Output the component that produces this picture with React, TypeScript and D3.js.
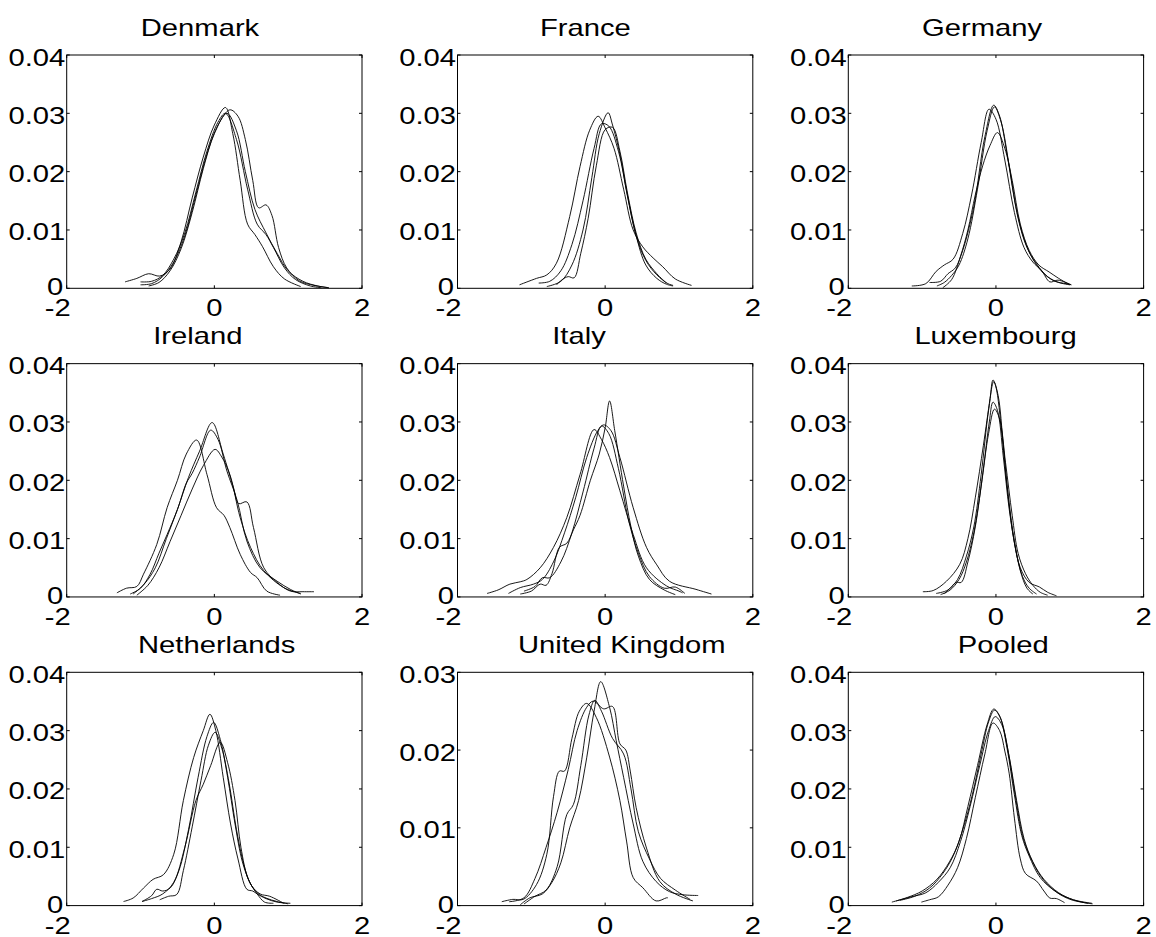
import React from "react";
import * as d3 from "d3";

type Pt = [number, number];

const countries = ["Denmark", "France", "Germany", "Ireland", "Italy", "Luxembourg", "Netherlands", "United Kingdom", "Pooled"];
const yMaxes = [0.04, 0.04, 0.04, 0.04, 0.04, 0.04, 0.04, 0.03, 0.04];
const xTicks = [-2, 0, 2];
const titleCenters = [200, 585.3, 982, 197.8, 579, 995.5, 216.7, 621.7, 1003.3];

const denmark: Pt[][] = [
  [[-1.21,0.0011],[-1.05,0.0017],[-0.89,0.0025],[-0.74,0.0021],[-0.6,0.0033],[-0.45,0.0080],[-0.3,0.0155],[-0.15,0.0225],[0,0.0280],[0.15,0.0310],[0.25,0.0265],[0.35,0.0185],[0.45,0.0110],[0.55,0.0092],[0.65,0.0072],[0.8,0.0037],[0.95,0.0016],[1.17,0.0003]],
  [[-1.0,0.0011],[-0.85,0.0012],[-0.7,0.0022],[-0.55,0.0050],[-0.4,0.0095],[-0.25,0.0165],[-0.1,0.0235],[0.05,0.0285],[0.15,0.0300],[0.3,0.0255],[0.45,0.0170],[0.58,0.0110],[0.7,0.0092],[0.8,0.0070],[0.95,0.0035],[1.1,0.0015],[1.3,0.0004],[1.45,0.0001]],
  [[-1.0,0.0006],[-0.85,0.0008],[-0.7,0.0020],[-0.55,0.0045],[-0.4,0.0090],[-0.25,0.0160],[-0.1,0.0230],[0.05,0.0280],[0.21,0.0306],[0.32,0.0295],[0.42,0.0255],[0.52,0.0185],[0.6,0.0138],[0.7,0.0143],[0.78,0.0125],[0.87,0.0070],[0.98,0.0035],[1.15,0.0013],[1.35,0.0005],[1.55,0.0001]],
  [[-0.89,0.0004],[-0.75,0.0010],[-0.6,0.0030],[-0.45,0.0068],[-0.3,0.0130],[-0.15,0.0205],[0,0.0265],[0.17,0.0300],[0.3,0.0270],[0.42,0.0200],[0.55,0.0135],[0.7,0.0095],[0.85,0.0060],[1.0,0.0030],[1.2,0.0012],[1.4,0.0004],[1.55,0.0001]],
];

const france: Pt[][] = [
  [[-1.16,0.0006],[-0.93,0.0017],[-0.79,0.0023],[-0.66,0.0043],[-0.48,0.0123],[-0.34,0.0209],[-0.21,0.0271],[-0.095,0.0295],[0,0.0275],[0.12,0.0240],[0.25,0.0170],[0.38,0.0100],[0.51,0.0071],[0.65,0.0052],[0.78,0.0037],[0.95,0.0016],[1.17,0.0005]],
  [[-0.79,0.0003],[-0.6,0.0012],[-0.45,0.0040],[-0.3,0.0100],[-0.18,0.0190],[-0.08,0.0265],[0.04,0.0301],[0.1,0.0280],[0.2,0.0230],[0.3,0.0160],[0.42,0.0090],[0.55,0.0040],[0.7,0.0017],[0.83,0.0007],[0.92,0.0004]],
  [[-0.9,0.0009],[-0.75,0.0012],[-0.6,0.0030],[-0.45,0.0075],[-0.3,0.0150],[-0.15,0.0240],[-0.05,0.0282],[0.05,0.0278],[0.18,0.0235],[0.3,0.0160],[0.42,0.0090],[0.55,0.0048],[0.7,0.0023],[0.85,0.0008],[0.92,0.0005]],
  [[-0.66,0.0006],[-0.58,0.0015],[-0.5,0.0020],[-0.42,0.0018],[-0.33,0.0060],[-0.23,0.0120],[-0.12,0.0210],[0,0.0272],[0.1,0.0276],[0.2,0.0235],[0.3,0.0165],[0.42,0.0095],[0.55,0.0050],[0.7,0.0025],[0.83,0.0009]],
];

const germany: Pt[][] = [
  [[-1.14,0.0004],[-0.95,0.0008],[-0.81,0.0029],[-0.7,0.0040],[-0.58,0.0050],[-0.45,0.0094],[-0.33,0.0160],[-0.2,0.0250],[-0.095,0.0307],[0,0.0290],[0.12,0.0220],[0.25,0.0130],[0.38,0.0070],[0.5,0.0045],[0.62,0.0030],[0.73,0.0011],[0.84,0.0014],[1.02,0.0006]],
  [[-0.9,0.0010],[-0.75,0.0012],[-0.65,0.0025],[-0.55,0.0035],[-0.45,0.0065],[-0.3,0.0140],[-0.15,0.0260],[-0.03,0.0314],[0.05,0.0295],[0.15,0.0230],[0.27,0.0140],[0.38,0.0085],[0.5,0.0050],[0.65,0.0025],[0.8,0.0012],[0.95,0.0008],[1.02,0.0006]],
  [[-0.8,0.0004],[-0.7,0.0010],[-0.6,0.0022],[-0.5,0.0040],[-0.38,0.0085],[-0.25,0.0170],[-0.12,0.0270],[-0.02,0.0311],[0.07,0.0285],[0.18,0.0210],[0.3,0.0120],[0.42,0.0070],[0.55,0.0042],[0.7,0.0020],[0.85,0.0010],[1.0,0.0006]],
  [[-0.72,0.0001],[-0.6,0.0015],[-0.48,0.0055],[-0.38,0.0100],[-0.28,0.0160],[-0.18,0.0210],[-0.08,0.0245],[0.02,0.0267],[0.12,0.0240],[0.22,0.0185],[0.33,0.0110],[0.45,0.0065],[0.58,0.0040],[0.72,0.0028],[0.85,0.0017],[1.0,0.0006]],
];

const ireland: Pt[][] = [
  [[-1.32,0.0007],[-1.19,0.0015],[-1.05,0.0018],[-0.96,0.0039],[-0.78,0.0090],[-0.64,0.0153],[-0.5,0.0200],[-0.38,0.0245],[-0.24,0.0269],[-0.1,0.0210],[0.03,0.0153],[0.13,0.0140],[0.21,0.0119],[0.35,0.0073],[0.49,0.0042],[0.58,0.0033],[0.71,0.0010],[0.89,0.0003]],
  [[-1.1,0.0005],[-0.95,0.0022],[-0.8,0.0050],[-0.65,0.0100],[-0.5,0.0150],[-0.35,0.0205],[-0.2,0.0250],[-0.03,0.0299],[0.12,0.0245],[0.26,0.0187],[0.33,0.0160],[0.44,0.0163],[0.53,0.0119],[0.67,0.0050],[0.85,0.0025],[1.03,0.0010],[1.2,0.0009],[1.35,0.0009]],
  [[-1.14,0.0005],[-1.0,0.0015],[-0.87,0.0039],[-0.75,0.0075],[-0.64,0.0107],[-0.5,0.0150],[-0.38,0.0195],[-0.3,0.0212],[-0.2,0.0240],[-0.05,0.0286],[0.05,0.0270],[0.17,0.0216],[0.31,0.0165],[0.44,0.0096],[0.62,0.0050],[0.85,0.0027],[1.03,0.0013],[1.17,0.0005]],
  [[-1.05,0.0003],[-0.9,0.0020],[-0.75,0.0050],[-0.6,0.0095],[-0.45,0.0140],[-0.3,0.0185],[-0.15,0.0225],[0.01,0.0253],[0.1,0.0240],[0.21,0.0210],[0.35,0.0136],[0.49,0.0085],[0.67,0.0045],[0.94,0.0016],[1.17,0.0006]],
];

const italy: Pt[][] = [
  [[-1.15,0.0005],[-1.0,0.0010],[-0.88,0.0022],[-0.8,0.0020],[-0.72,0.0040],[-0.62,0.0085],[-0.52,0.0092],[-0.43,0.0115],[-0.34,0.0140],[-0.2,0.0200],[-0.08,0.0245],[0.0,0.0290],[0.06,0.0336],[0.13,0.0285],[0.25,0.0190],[0.35,0.0120],[0.45,0.0070],[0.6,0.0030],[0.8,0.0012],[0.95,0.0004]],
  [[-1.6,0.0006],[-1.45,0.0012],[-1.29,0.0022],[-1.15,0.0026],[-1.06,0.0030],[-0.88,0.0050],[-0.7,0.0085],[-0.52,0.0136],[-0.34,0.0210],[-0.15,0.0287],[-0.05,0.0270],[0.06,0.0239],[0.2,0.0182],[0.38,0.0107],[0.56,0.0050],[0.83,0.0019],[1.0,0.0010],[1.05,0.0007]],
  [[-1.31,0.0006],[-1.15,0.0016],[-0.97,0.0022],[-0.85,0.0030],[-0.7,0.0060],[-0.55,0.0110],[-0.4,0.0170],[-0.25,0.0239],[-0.1,0.0285],[-0.02,0.0295],[0.08,0.0285],[0.2,0.0239],[0.38,0.0153],[0.56,0.0085],[0.7,0.0055],[0.87,0.0027],[1.23,0.0013],[1.44,0.0005]],
  [[-1.1,0.0010],[-0.95,0.0018],[-0.85,0.0033],[-0.75,0.0033],[-0.6,0.0060],[-0.45,0.0110],[-0.3,0.0180],[-0.15,0.0255],[-0.05,0.0293],[0.05,0.0280],[0.18,0.0220],[0.32,0.0130],[0.45,0.0075],[0.6,0.0035],[0.8,0.0015],[0.95,0.0017],[1.08,0.0006]],
];

const luxembourg: Pt[][] = [
  [[-0.99,0.0009],[-0.85,0.0011],[-0.67,0.0027],[-0.49,0.0056],[-0.38,0.0100],[-0.28,0.0170],[-0.17,0.0260],[-0.08,0.0340],[-0.04,0.0372],[0.0,0.0360],[0.08,0.0280],[0.15,0.0190],[0.24,0.0100],[0.33,0.0050],[0.45,0.0025],[0.59,0.0017],[0.7,0.0008],[0.82,0.0002]],
  [[-0.81,0.0006],[-0.65,0.0012],[-0.52,0.0030],[-0.4,0.0070],[-0.3,0.0120],[-0.2,0.0210],[-0.1,0.0320],[-0.03,0.0369],[0.03,0.0345],[0.1,0.0260],[0.17,0.0170],[0.25,0.0095],[0.33,0.0045],[0.42,0.0015],[0.5,0.0005]],
  [[-0.7,0.0005],[-0.6,0.0018],[-0.54,0.0025],[-0.47,0.0025],[-0.38,0.0060],[-0.28,0.0120],[-0.17,0.0220],[-0.09,0.0300],[-0.04,0.0334],[0.02,0.0320],[0.1,0.0240],[0.18,0.0150],[0.27,0.0080],[0.36,0.0035],[0.45,0.0015],[0.55,0.0005]],
  [[-0.75,0.0004],[-0.62,0.0012],[-0.5,0.0030],[-0.4,0.0060],[-0.3,0.0110],[-0.2,0.0190],[-0.1,0.0280],[-0.02,0.0322],[0.05,0.0305],[0.13,0.0230],[0.22,0.0140],[0.3,0.0075],[0.4,0.0040],[0.5,0.0020],[0.6,0.0008],[0.7,0.0003]],
];

const netherlands: Pt[][] = [
  [[-1.23,0.0007],[-1.1,0.0013],[-0.96,0.0030],[-0.83,0.0045],[-0.69,0.0053],[-0.55,0.0088],[-0.42,0.0180],[-0.28,0.0254],[-0.15,0.0300],[-0.06,0.0328],[0.02,0.0300],[0.12,0.0220],[0.22,0.0140],[0.32,0.0080],[0.44,0.0028],[0.52,0.0025],[0.58,0.0020],[0.7,0.0012],[0.85,0.0006],[1.03,0.0004]],
  [[-0.98,0.0007],[-0.85,0.0017],[-0.78,0.0028],[-0.7,0.0025],[-0.6,0.0030],[-0.48,0.0060],[-0.35,0.0130],[-0.22,0.0220],[-0.1,0.0290],[-0.01,0.0314],[0.08,0.0285],[0.18,0.0220],[0.28,0.0140],[0.38,0.0075],[0.48,0.0040],[0.58,0.0020],[0.68,0.0006],[0.8,0.0004]],
  [[-0.74,0.0010],[-0.62,0.0016],[-0.51,0.0019],[-0.42,0.0060],[-0.3,0.0135],[-0.18,0.0215],[-0.08,0.0275],[0.01,0.0297],[0.1,0.0270],[0.2,0.0210],[0.3,0.0130],[0.4,0.0070],[0.5,0.0035],[0.62,0.0020],[0.75,0.0016],[0.94,0.0004]],
  [[-0.98,0.0007],[-0.85,0.0012],[-0.7,0.0020],[-0.55,0.0040],[-0.4,0.0100],[-0.25,0.0180],[-0.15,0.0208],[-0.05,0.0240],[0.08,0.0280],[0.18,0.0245],[0.28,0.0180],[0.36,0.0100],[0.46,0.0045],[0.58,0.0022],[0.7,0.0013],[0.85,0.0007],[1.0,0.0003]],
];

const unitedKingdom: Pt[][] = [
  [[-1.15,0.0001],[-1.02,0.0010],[-0.85,0.0015],[-0.72,0.0030],[-0.6,0.0055],[-0.48,0.0100],[-0.36,0.0135],[-0.25,0.0190],[-0.15,0.0250],[-0.06,0.0288],[0.06,0.0255],[0.15,0.0212],[0.25,0.0165],[0.38,0.0105],[0.51,0.0057],[0.69,0.0031],[0.87,0.0018],[1.05,0.0014],[1.26,0.0013]],
  [[-1.4,0.0005],[-1.25,0.0008],[-1.11,0.0008],[-0.93,0.0027],[-0.79,0.0066],[-0.7,0.0140],[-0.62,0.0173],[-0.55,0.0173],[-0.45,0.0215],[-0.35,0.0250],[-0.25,0.0260],[-0.12,0.0242],[0.06,0.0191],[0.2,0.0135],[0.29,0.0083],[0.38,0.0036],[0.51,0.0023],[0.69,0.0006],[0.83,0.0010],[0.85,0.0010]],
  [[-1.3,0.0005],[-1.1,0.0010],[-0.95,0.0035],[-0.8,0.0075],[-0.65,0.0120],[-0.5,0.0175],[-0.38,0.0225],[-0.25,0.0255],[-0.16,0.0263],[-0.02,0.0253],[0.1,0.0256],[0.2,0.0208],[0.28,0.0200],[0.34,0.0173],[0.42,0.0126],[0.56,0.0074],[0.74,0.0031],[0.95,0.0015],[1.19,0.0006]],
  [[-1.1,0.0002],[-0.95,0.0012],[-0.8,0.0020],[-0.65,0.0050],[-0.52,0.0117],[-0.43,0.0130],[-0.33,0.0180],[-0.22,0.0245],[-0.14,0.0264],[-0.05,0.0250],[0.1,0.0215],[0.25,0.0195],[0.35,0.0150],[0.45,0.0095],[0.6,0.0060],[0.75,0.0035],[0.95,0.0020],[1.15,0.0008]],
];

const pooled: Pt[][] = [
  [[-1.41,0.0006],[-1.2,0.0014],[-1.0,0.0025],[-0.8,0.0045],[-0.63,0.0075],[-0.5,0.0110],[-0.38,0.0170],[-0.25,0.0240],[-0.12,0.0310],[-0.03,0.0337],[0.05,0.0325],[0.15,0.0270],[0.25,0.0190],[0.35,0.0120],[0.45,0.0085],[0.6,0.0048],[0.8,0.0025],[1.0,0.0012],[1.2,0.0005],[1.31,0.0003]],
  [[-1.3,0.0009],[-1.1,0.0016],[-0.9,0.0030],[-0.72,0.0055],[-0.58,0.0085],[-0.45,0.0130],[-0.32,0.0190],[-0.2,0.0260],[-0.1,0.0315],[-0.02,0.0335],[0.06,0.0322],[0.16,0.0268],[0.26,0.0190],[0.36,0.0120],[0.46,0.0085],[0.62,0.0048],[0.82,0.0023],[1.02,0.0010],[1.25,0.0004]],
  [[-1.35,0.0008],[-1.15,0.0015],[-0.95,0.0022],[-0.78,0.0040],[-0.62,0.0065],[-0.48,0.0110],[-0.35,0.0170],[-0.22,0.0240],[-0.1,0.0300],[-0.01,0.0324],[0.08,0.0310],[0.18,0.0255],[0.28,0.0180],[0.38,0.0115],[0.5,0.0075],[0.65,0.0045],[0.85,0.0022],[1.05,0.0010],[1.3,0.0004]],
  [[-1.01,0.0006],[-0.9,0.0010],[-0.78,0.0015],[-0.65,0.0035],[-0.52,0.0065],[-0.4,0.0115],[-0.28,0.0185],[-0.15,0.0260],[-0.04,0.0313],[0.05,0.0300],[0.12,0.0265],[0.18,0.0226],[0.25,0.0150],[0.33,0.0080],[0.4,0.0055],[0.55,0.0042],[0.65,0.0025],[0.73,0.0013],[0.82,0.0012],[0.93,0.0005]],
];

const allSeries = [denmark, france, germany, ireland, italy, luxembourg, netherlands, unitedKingdom, pooled];

const W = 1156;
const H = 937;
const PANEL_LEFT0 = 66.7;
const PANEL_DX = 390.8;
const PANEL_W = 295.3;
const PANEL_TOP0 = 55;
const PANEL_DY = 308.65;
const PANEL_H = 233.3;
const FONT = "Arial, 'Liberation Sans', Helvetica, sans-serif";
const FS = 23;
const SX = 1.27;
const TICK = 3;

function fmtY(v: number) {
  return v === 0 ? "0" : v.toFixed(2);
}

function Label({ x, y, anchor, children }: { x: number; y: number; anchor: string; children: React.ReactNode }) {
  return (
    <text
      transform={`translate(${x},${y}) scale(${SX},1)`}
      textAnchor={anchor as any}
      fontFamily={FONT}
      fontSize={FS}
      fill="#000"
    >
      {children}
    </text>
  );
}

function Panel({ idx }: { idx: number }) {
  const col = idx % 3;
  const row = Math.floor(idx / 3);
  const left = PANEL_LEFT0 + col * PANEL_DX;
  const top = PANEL_TOP0 + row * PANEL_DY;
  const x = d3.scaleLinear().domain([-2, 2]).range([left, left + PANEL_W]);
  const y = d3.scaleLinear().domain([0, yMaxes[idx]]).range([top + PANEL_H, top]);
  const yTicks = d3.range(0, yMaxes[idx] + 1e-9, 0.01);
  const line = d3
    .line<Pt>()
    .x((d) => x(d[0]))
    .y((d) => y(d[1]))
    .curve(d3.curveCatmullRom.alpha(0.5));
  const bottom = top + PANEL_H;
  const right = left + PANEL_W;
  return (
    <g>
      {allSeries[idx].map((s, i) => (
        <path key={i} d={line(s) || ""} fill="none" stroke="#000" strokeWidth={0.9} />
      ))}
      <rect x={left} y={top} width={PANEL_W} height={PANEL_H} fill="none" stroke="#000" strokeWidth={1} />
      {xTicks.map((t) => (
        <g key={"xt" + t}>
          <line x1={x(t)} x2={x(t)} y1={bottom} y2={bottom - TICK} stroke="#000" />
          <line x1={x(t)} x2={x(t)} y1={top} y2={top + TICK} stroke="#000" />
          <Label x={x(t) + (t < 0 ? -9 : 0)} y={bottom + 28} anchor="middle">
            {String(t)}
          </Label>
        </g>
      ))}
      {yTicks.map((t) => (
        <g key={"yt" + t}>
          <line x1={left} x2={left + TICK} y1={y(t)} y2={y(t)} stroke="#000" />
          <line x1={right} x2={right - TICK} y1={y(t)} y2={y(t)} stroke="#000" />
          <Label x={left - (t === 0 ? 3.5 : 1.5)} y={y(t) + (t === 0 ? 7 : 10.5)} anchor="end">
            {fmtY(t)}
          </Label>
        </g>
      ))}
      <Label x={titleCenters[idx]} y={top - 19.5} anchor="middle">
        {countries[idx]}
      </Label>
    </g>
  );
}

export default function App() {
  return (
    <svg
      width={W}
      height={H}
      viewBox={`0 0 ${W} ${H}`}
      style={{ position: "absolute", left: 0, top: 0, background: "#fff" }}
    >
      <rect x={0} y={0} width={W} height={H} fill="#fff" />
      {countries.map((c, i) => (
        <Panel key={c} idx={i} />
      ))}
    </svg>
  );
}
